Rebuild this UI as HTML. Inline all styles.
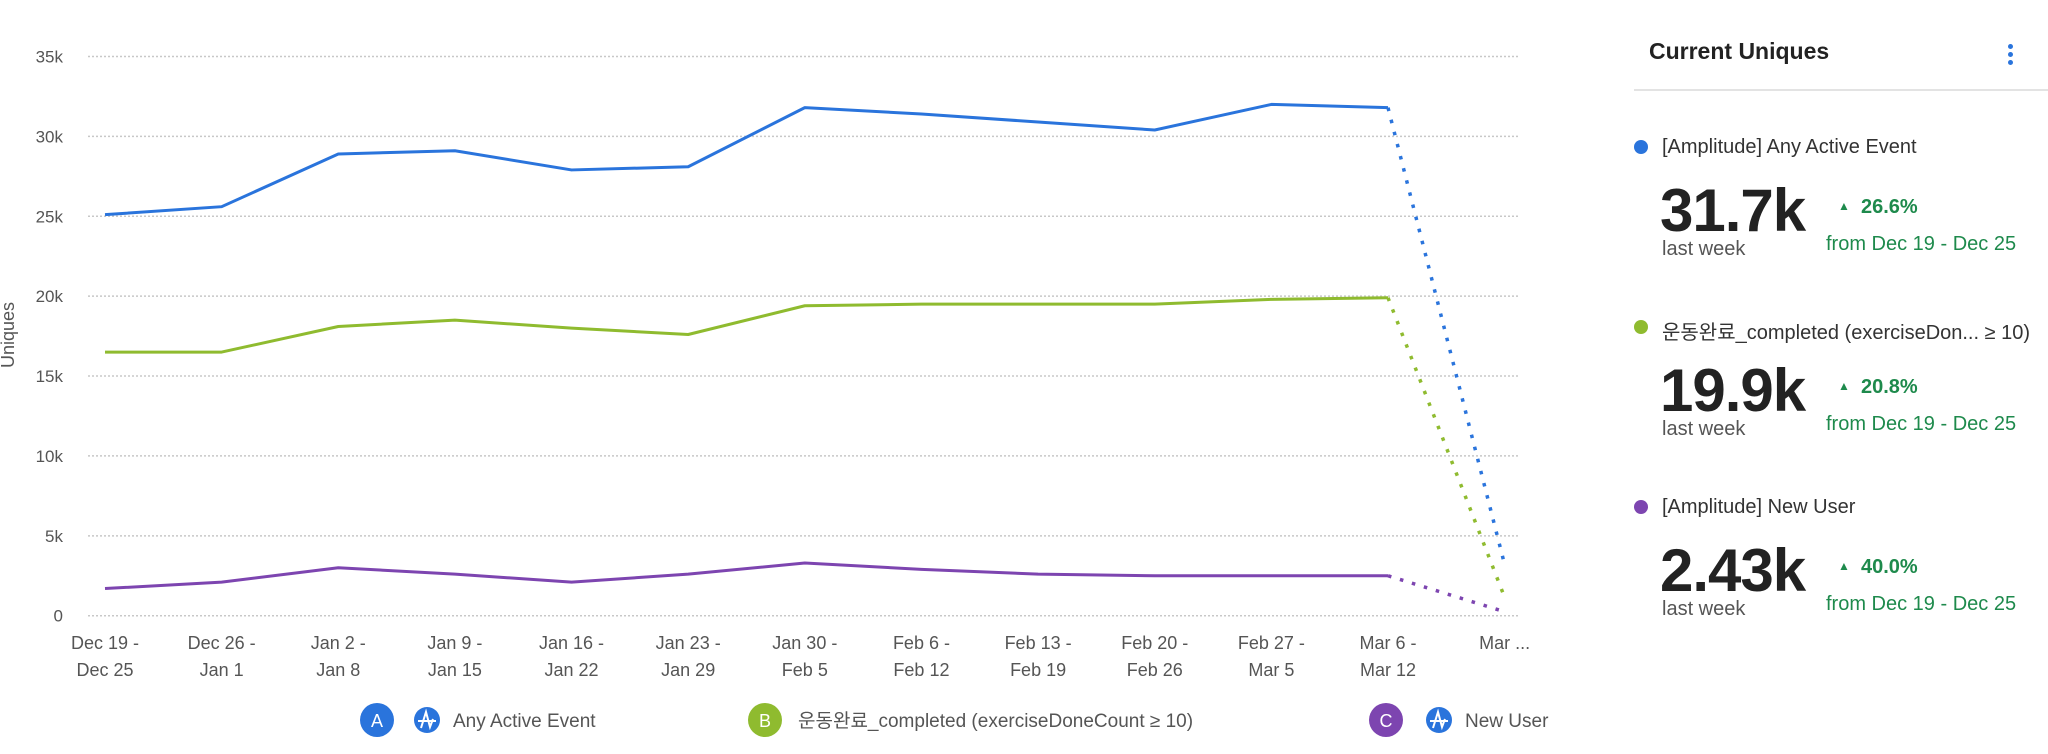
<!DOCTYPE html>
<html><head><meta charset="utf-8">
<style>
body{margin:0;width:2048px;height:754px;background:#fff;font-family:"Liberation Sans","Noto Sans CJK KR",sans-serif;overflow:hidden;position:relative}
svg{position:absolute;left:0;top:0}
.panel{position:absolute;left:0;top:0}
.abs{position:absolute;white-space:nowrap}
</style></head><body>
<svg id="chart" width="2048" height="754"></svg>
<div class="panel">
  <div class="abs" style="left:1649px;top:38px;font-size:23px;font-weight:bold;color:#222">Current Uniques</div>
  <div class="abs" style="left:2008px;top:44px;width:6px">
    <div style="width:5px;height:5px;border-radius:50%;background:#2a74dc;margin-bottom:3px"></div>
    <div style="width:5px;height:5px;border-radius:50%;background:#2a74dc;margin-bottom:3px"></div>
    <div style="width:5px;height:5px;border-radius:50%;background:#2a74dc"></div>
  </div>
  <div class="abs" style="left:1634px;top:89px;width:414px;height:2px;background:#e3e3e3"></div>
  <div id="entries"></div>
</div>
<script>
const categories=[["Dec 19 -","Dec 25"],["Dec 26 -","Jan 1"],["Jan 2 -","Jan 8"],["Jan 9 -","Jan 15"],["Jan 16 -","Jan 22"],["Jan 23 -","Jan 29"],["Jan 30 -","Feb 5"],["Feb 6 -","Feb 12"],["Feb 13 -","Feb 19"],["Feb 20 -","Feb 26"],["Feb 27 -","Mar 5"],["Mar 6 -","Mar 12"],["Mar ...",""]];
const seriesA=[25.1,25.6,28.9,29.1,27.9,28.1,31.8,31.4,30.9,30.4,32.0,31.8,3.2];
const seriesB=[16.5,16.5,18.1,18.5,18.0,17.6,19.4,19.5,19.5,19.5,19.8,19.9,1.15];
const seriesC=[1.7,2.1,3.0,2.6,2.1,2.6,3.3,2.9,2.6,2.5,2.5,2.5,0.25];
const yTicks=[0,5,10,15,20,25,30,35];
const yTickLabels=["0","5k","10k","15k","20k","25k","30k","35k"];
const NS="http://www.w3.org/2000/svg";
const svg=document.getElementById('chart');
const x=i=>105+i*((1388-105)/11);
const y=v=>615.7-v*(615.7-56.5)/35;
function mk(t,a,p){const e=document.createElementNS(NS,t);for(const k in a)e.setAttribute(k,a[k]);(p||svg).appendChild(e);return e;}
yTicks.forEach((v,i)=>{
  const g=mk('line',{x1:88,x2:1518,y1:y(v),y2:y(v),stroke:'#c8c8c8','stroke-width':1.5,'stroke-dasharray':'2 2'});
  
  
  const t=mk('text',{x:63,y:y(v)+6,'text-anchor':'end','font-size':17,fill:'#555'});
  t.textContent=yTickLabels[i];
  
  
});
categories.forEach((c,i)=>{
  c.forEach((s,j)=>{if(!s)return;
    const t=mk('text',{x:x(i),y:649+j*27,'text-anchor':'middle','font-size':18,fill:'#555'});
    t.textContent=s;
    
    
  });
});
const yt=mk('text',{x:0,y:0,transform:'translate(14,335) rotate(-90)','text-anchor':'middle','font-size':18,fill:'#555'});
yt.textContent='Uniques';


function drawSeries(vals,color,name){
  const n=vals.length;
  const pts=vals.slice(0,n-1).map((v,i)=>x(i)+','+y(v)).join(' ');
  const l=mk('polyline',{points:pts,fill:'none',stroke:color,'stroke-width':3,'stroke-linejoin':'round'});
  
  
  const d=mk('line',{x1:x(n-2),y1:y(vals[n-2]),x2:x(n-1),y2:y(vals[n-1]),stroke:color,'stroke-width':3.5,'stroke-dasharray':'3.5 9'});
  
  
}
drawSeries(seriesA,'#2a74dc','any-active-event');
drawSeries(seriesB,'#8fbb2f','exercise-completed');
drawSeries(seriesC,'#7d45b0','new-user');
function ampIcon(cx,cy){
  const c=mk('circle',{cx:cx,cy:cy,r:13,fill:'#2a74dc'});
  
  
  mk('path',{d:`M${cx-9} ${cy+1}H${cx+9}M${cx-6} ${cy+8}L${cx-1} ${cy-8}L${cx+3} ${cy+7}L${cx+6} ${cy-1}`,stroke:'#fff','stroke-width':2,fill:'none'});
}
function legend(letter,color,cx,icon,text,tx,name){
  const c=mk('circle',{cx:cx,cy:720,r:17,fill:color});
  
  
  const l=mk('text',{x:cx,y:727,'text-anchor':'middle','font-size':18,fill:'#fff'});l.textContent=letter;
  if(icon)ampIcon(icon,720);
  const t=mk('text',{x:tx,y:727,'font-size':19,fill:'#555'});t.textContent=text;
  
  
}
legend('A','#2a74dc',377,427,'Any Active Event',453,'any-active-event');
legend('B','#8fbb2f',765,0,'운동완료_completed (exerciseDoneCount ≥ 10)',798,'exercise-completed');
legend('C','#7d45b0',1386,1439,'New User',1465,'new-user');

const entryNames=['[Amplitude] Any Active Event','운동완료_completed (exerciseDon...  ≥ 10)','[Amplitude] New User'];
const entryValues=['31.7k','19.9k','2.43k'];
const entryPcts=['26.6%','20.8%','40.0%'];
const entryColors=['#2a74dc','#8fbb2f','#7d45b0'];
const box=document.getElementById('entries');
entryNames.forEach((nm,i)=>{
  const top=i*180;
  const e=document.createElement('div');
  
  
  e.innerHTML=`<div class="abs" style="left:1634px;top:${140+top}px;width:14px;height:14px;border-radius:50%;background:${entryColors[i]}"></div>
<div class="abs" style="left:1662px;top:${136+top}px;font-size:20px;color:#333">${nm}</div>
<div class="abs" style="left:1660px;top:${176+top}px;font-size:60px;font-weight:bold;color:#222;letter-spacing:-1px">${entryValues[i]}</div>
<div class="abs" style="left:1662px;top:${238+top}px;font-size:20px;color:#555">last week</div>
<div class="abs" style="left:1838px;top:${196+top}px;font-size:20px;font-weight:bold;color:#1e8a4c"><span style="font-size:12px;position:relative;top:-3px">▲</span>&nbsp; ${entryPcts[i]}</div>
<div class="abs" style="left:1826px;top:${233+top}px;font-size:20px;color:#1e8a4c">from Dec 19 - Dec 25</div>`;
  box.appendChild(e);
});
</script>
</body></html>
